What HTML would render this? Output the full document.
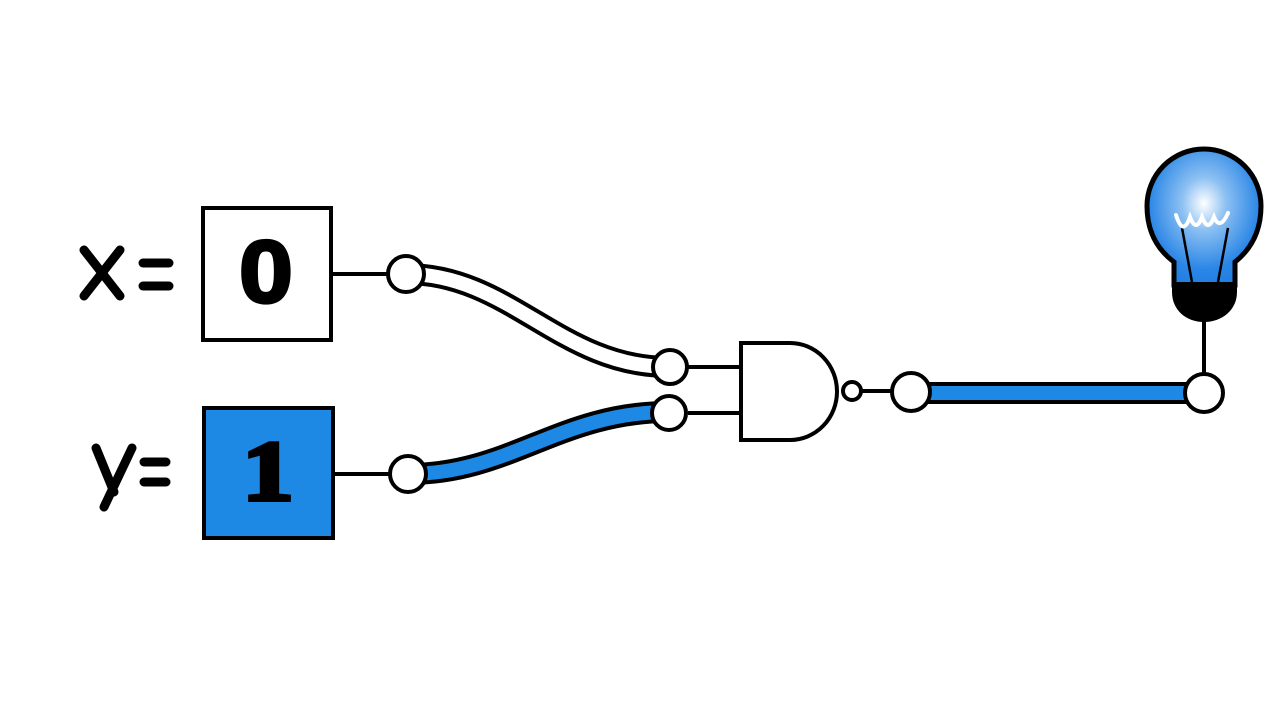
<!DOCTYPE html>
<html><head><meta charset="utf-8"><style>
html,body{margin:0;padding:0;background:#fff;}
svg{display:block}
</style></head><body>
<svg width="1280" height="720" viewBox="0 0 1280 720" xmlns="http://www.w3.org/2000/svg">
<defs>
<radialGradient id="bg" cx="0.5" cy="0.4" r="0.65">
<stop offset="0" stop-color="#ffffff"/><stop offset="0.3" stop-color="#8cc0f2"/><stop offset="0.75" stop-color="#2a86e6"/><stop offset="1" stop-color="#1f7de0"/>
</radialGradient>
</defs>
<!-- x = -->
<g stroke="#000" stroke-width="9" stroke-linecap="round" fill="none">
<line x1="84" y1="250" x2="120" y2="296"/><line x1="120" y1="250" x2="84" y2="296"/>
<line x1="143" y1="263" x2="169" y2="263"/><line x1="143" y1="286" x2="169" y2="286"/>
<line x1="96" y1="448" x2="114" y2="492"/><line x1="132" y1="448" x2="104" y2="507"/>
<line x1="144" y1="462" x2="166" y2="462"/><line x1="144" y1="482" x2="166" y2="482"/>
</g>
<!-- boxes -->
<rect x="203" y="208" width="128" height="132" fill="#fff" stroke="#000" stroke-width="4"/>
<text x="0" y="0" transform="translate(266,302) scale(1.15,1.05)" font-family="Liberation Sans, sans-serif" font-weight="bold" font-size="84" text-anchor="middle" stroke="#000" stroke-width="3">0</text>
<rect x="204" y="408" width="129" height="130" fill="#1e88e5" stroke="#000" stroke-width="4"/>
<text x="0" y="0" transform="translate(268,500) scale(1.2,1)" font-family="Liberation Serif, serif" font-weight="bold" font-size="86" text-anchor="middle" stroke="#000" stroke-width="4">1</text>
<!-- stubs -->
<g stroke="#000" stroke-width="4">
<line x1="331" y1="274" x2="392" y2="274"/>
<line x1="333" y1="474" x2="392" y2="474"/>
<line x1="688" y1="367" x2="742" y2="367"/>
<line x1="688" y1="413" x2="742" y2="413"/>
<line x1="861" y1="391" x2="895" y2="391"/>
<line x1="1204" y1="315" x2="1204" y2="378"/>
</g>
<!-- wires -->
<path d="M406,274 C510,274 560,367 669,367" fill="none" stroke="#000" stroke-width="22"/>
<path d="M406,274 C510,274 560,367 669,367" fill="none" stroke="#fff" stroke-width="14"/>
<path d="M408,474 C510,474 560,412 669,412" fill="none" stroke="#000" stroke-width="22"/>
<path d="M408,474 C510,474 560,412 669,412" fill="none" stroke="#1e88e5" stroke-width="14"/>
<rect x="911" y="382" width="293" height="22" fill="#000"/>
<rect x="911" y="386" width="293" height="14" fill="#1e88e5"/>
<!-- gate -->
<path d="M741,343 L790,343 A47,48.5 0 0 1 790,440 L741,440 Z" fill="#fff" stroke="#000" stroke-width="4"/>
<circle cx="852" cy="391" r="9" fill="#fff" stroke="#000" stroke-width="4"/>
<!-- nodes -->
<g fill="#fff" stroke="#000" stroke-width="4">
<circle cx="406" cy="274" r="18"/>
<circle cx="408" cy="474" r="18"/>
<circle cx="670" cy="367" r="17"/>
<circle cx="669" cy="413" r="17"/>
<circle cx="911" cy="392" r="19"/>
<circle cx="1204" cy="393" r="19"/>
</g>
<!-- bulb -->
<path d="M1174,285 L1174,262 C1158,250 1147,232 1147,206 A57,57 0 0 1 1261,206 C1261,232 1250,250 1235,262 L1235,285 Z" fill="url(#bg)" stroke="#000" stroke-width="5"/>
<path d="M1172,282 L1237,282 L1237,292 C1237,310 1222,322 1204,322 C1186,322 1172,310 1172,292 Z" fill="#000"/>
<g stroke="#000" stroke-width="2.5" fill="none">
<line x1="1182" y1="228" x2="1192" y2="282"/><line x1="1228" y1="228" x2="1218" y2="282"/>
</g>
<path d="M1176,215 q7,22 14,2 q6,16 12,0 q6,16 12,0 q6,14 14,-4" fill="none" stroke="#fff" stroke-width="4" stroke-linecap="round"/>
</svg>
</body></html>
